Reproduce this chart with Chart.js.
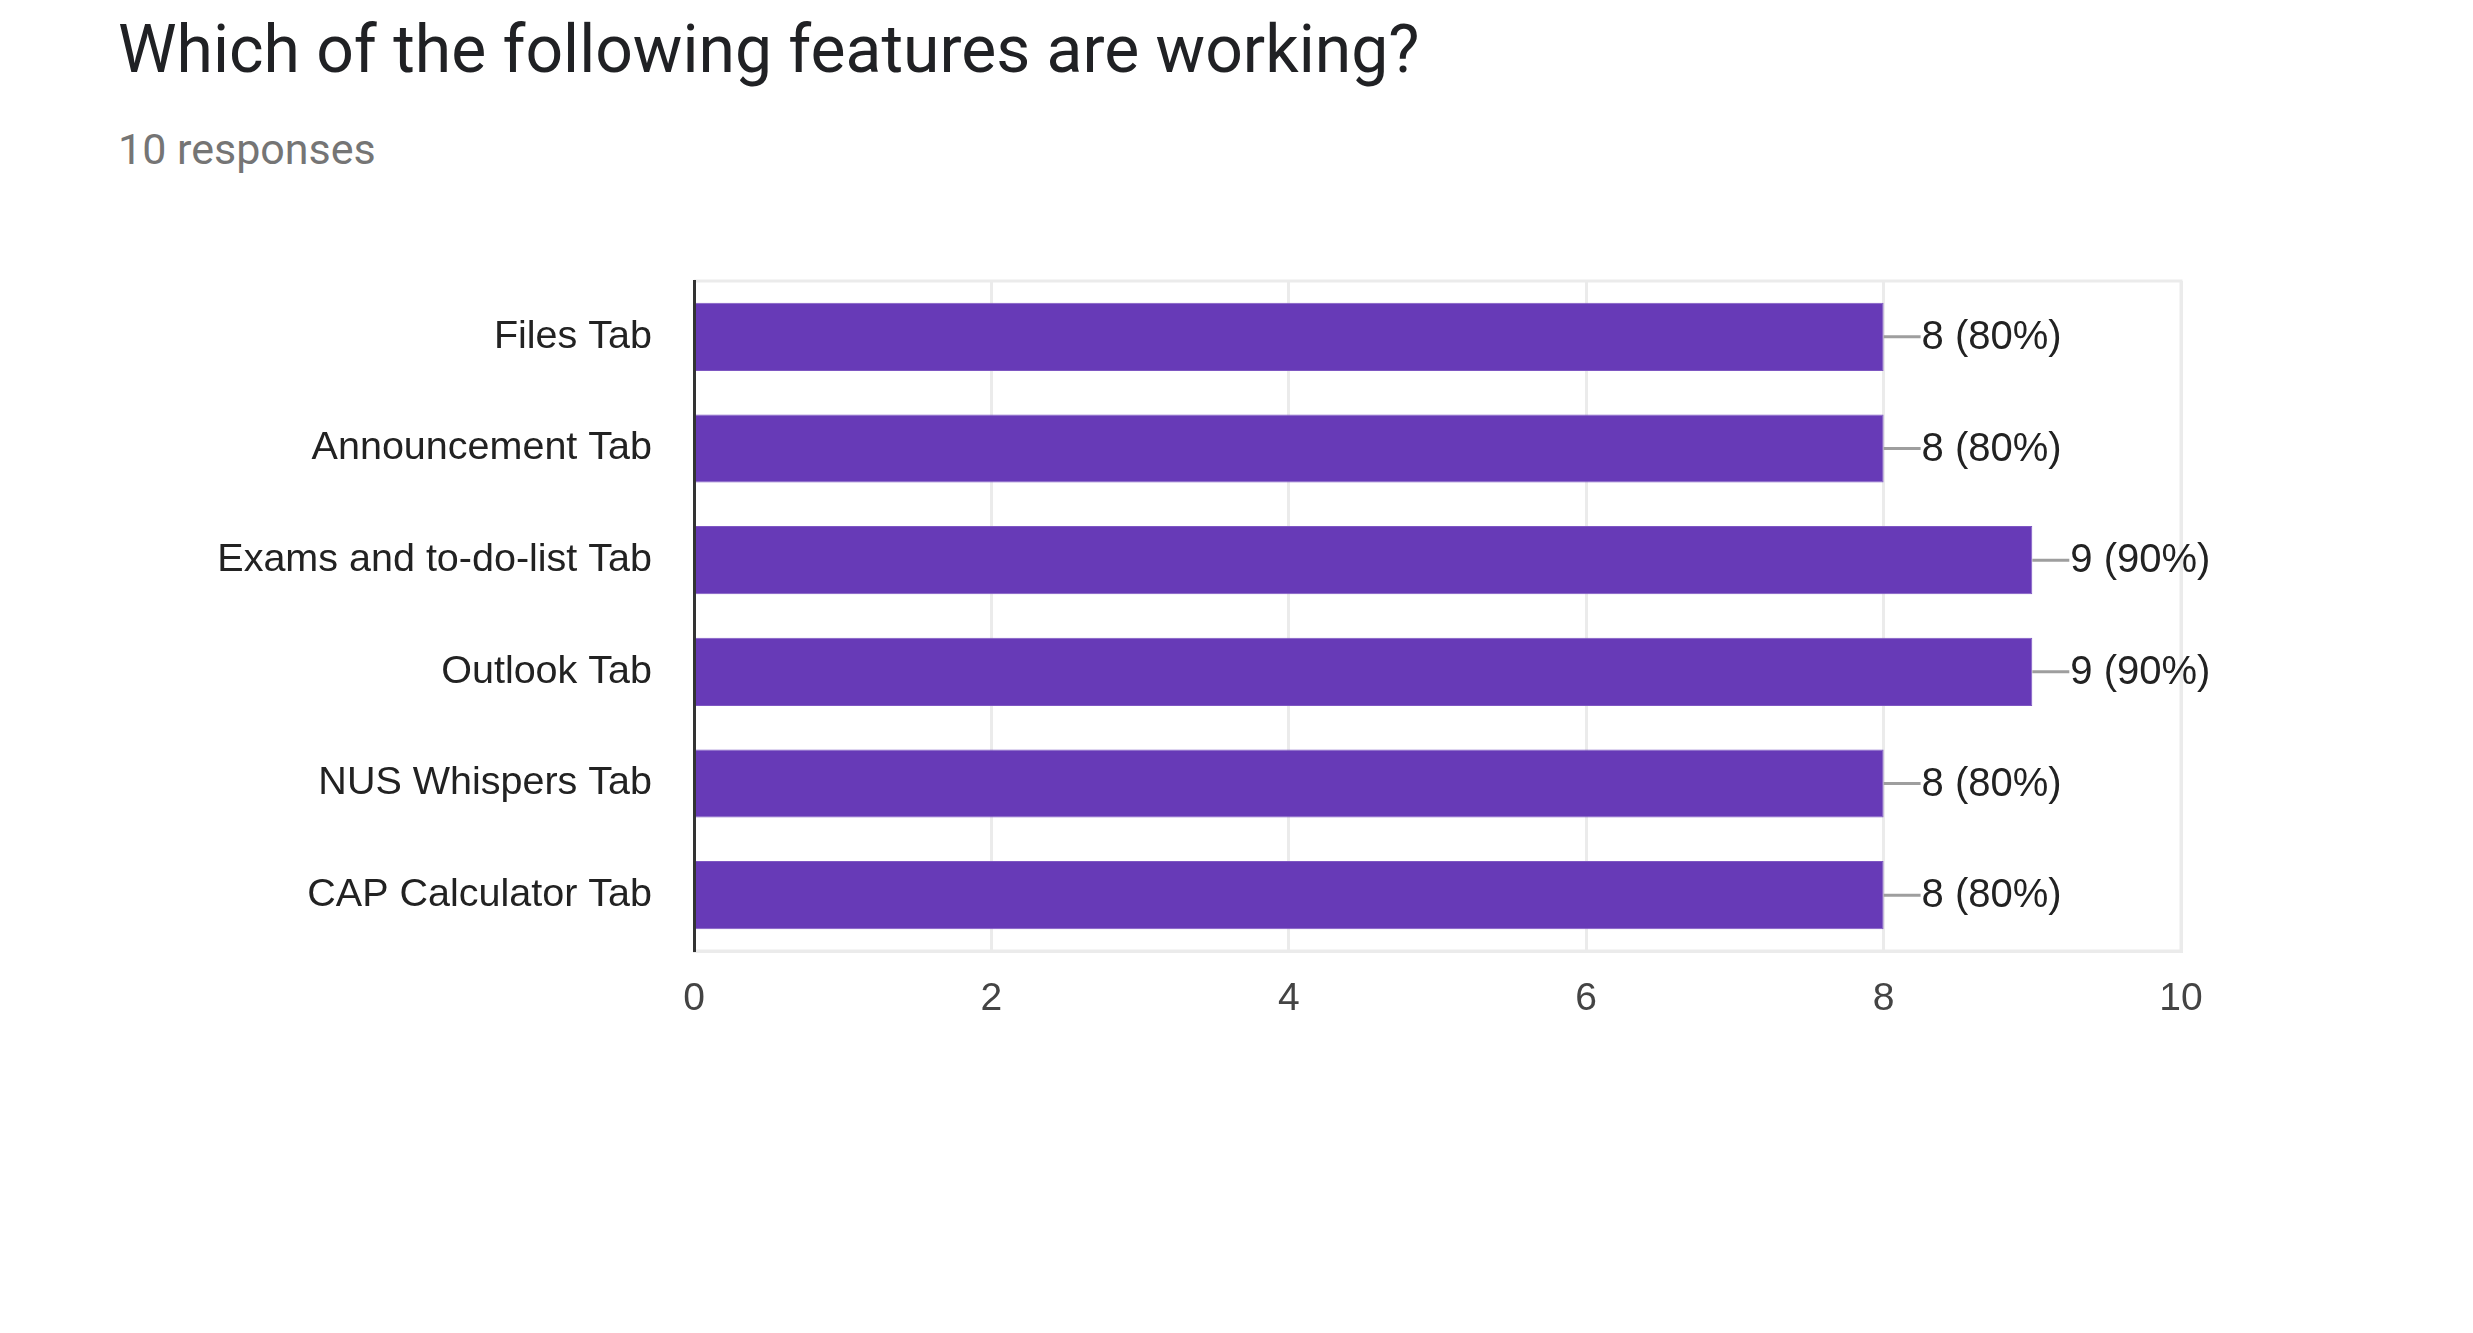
<!DOCTYPE html>
<html lang="en">
<head>
    <meta charset="UTF-8">
    <title>Which of the following features are working?</title>
    <script src="https://cdn.jsdelivr.net/npm/chart.js"></script>
    <style>
        body { margin: 0; background: #fff; }
        #wrap { position: relative; width: 2473px; height: 1333px; }
        #title { position: absolute; left: 118px; top: 11px; font-family: Roboto, sans-serif; font-size: 66px; color: #202124; white-space: nowrap; }
        #sub { position: absolute; left: 118px; top: 124px; font-family: Roboto, sans-serif; font-size: 43px; color: #757575; white-space: nowrap; }
        canvas { position: absolute; left: 0; top: 0; }
    </style>
</head>
<body>
<div id="wrap">
    <div id="title">Which of the following features are working?</div>
    <div id="sub">10 responses</div>
    <canvas id="featuresChart" width="2473" height="1333"></canvas>
</div>

<script>
    var features = ["Files Tab", "Announcement Tab", "Exams and to-do-list Tab", "Outlook Tab", "NUS Whispers Tab", "CAP Calculator Tab"];
    var counts = [8, 8, 9, 9, 8, 8];
    var totalResponses = 10;
    var xTicks = [0, 2, 4, 6, 8, 10];

    var labelFont = "Arial, 'Liberation Sans', sans-serif";

    // connector line + "n (pct%)" after every bar
    var valueLabels = {
        id: 'valueLabels',
        afterDatasetsDraw: function (chart) {
            var ctx = chart.ctx;
            var meta = chart.getDatasetMeta(0);
            ctx.save();
            meta.data.forEach(function (bar, i) {
                var v = counts[i];
                ctx.strokeStyle = '#9e9e9e';
                ctx.lineWidth = 3;
                ctx.beginPath();
                ctx.moveTo(bar.x, bar.y);
                ctx.lineTo(bar.x + 37, bar.y);
                ctx.stroke();
                ctx.fillStyle = '#222';
                ctx.font = '40px ' + labelFont;
                ctx.textBaseline = 'middle';
                ctx.textAlign = 'left';
                ctx.fillText(v + ' (' + Math.round(v / totalResponses * 100) + '%)', bar.x + 38, bar.y + 1);
            });
            ctx.restore();
        }
    };

    // light frame around plot area
    var frame = {
        id: 'frame',
        beforeDatasetsDraw: function (chart) {
            var a = chart.chartArea;
            var ctx = chart.ctx;
            ctx.save();
            ctx.strokeStyle = '#ebebeb';
            ctx.lineWidth = 3;
            ctx.beginPath();
            ctx.moveTo(a.left, a.top);
            ctx.lineTo(a.right, a.top);
            ctx.lineTo(a.right, a.bottom);
            ctx.lineTo(a.left, a.bottom);
            ctx.stroke();
            ctx.restore();
        }
    };

    var ctx = document.getElementById('featuresChart').getContext('2d');
    new Chart(ctx, {
        type: 'bar',
        data: {
            labels: features,
            datasets: [{
                data: counts,
                backgroundColor: '#673ab7',
                borderColor: '#7e57c2',
                borderWidth: 1,
                barPercentage: 0.61,
                categoryPercentage: 1
            }]
        },
        options: {
            indexAxis: 'y',
            responsive: false,
            animation: false,
            layout: { padding: { left: 0, right: 292, top: 281, bottom: 302 } },
            plugins: { legend: { display: false }, tooltip: { enabled: false } },
            scales: {
                x: {
                    min: 0,
                    max: 10,
                    afterFit: function (s) { s.height = 80; },
                    afterBuildTicks: function (s) { s.ticks = xTicks.map(function (v) { return { value: v }; }); },
                    grid: { color: '#ebebeb', lineWidth: 3, drawTicks: false },
                    border: { color: '#ebebeb', width: 3 },
                    ticks: { padding: 25, color: '#444', font: { family: labelFont, size: 39 } }
                },
                y: {
                    afterFit: function (s) { s.width = 694; },
                    grid: { display: false, drawTicks: false },
                    border: { color: '#333', width: 3, z: 1 },
                    ticks: { padding: 42, color: '#222', font: { family: labelFont, size: 39.5 } }
                }
            }
        },
        plugins: [frame, valueLabels]
    });
</script>
</body>
</html>
